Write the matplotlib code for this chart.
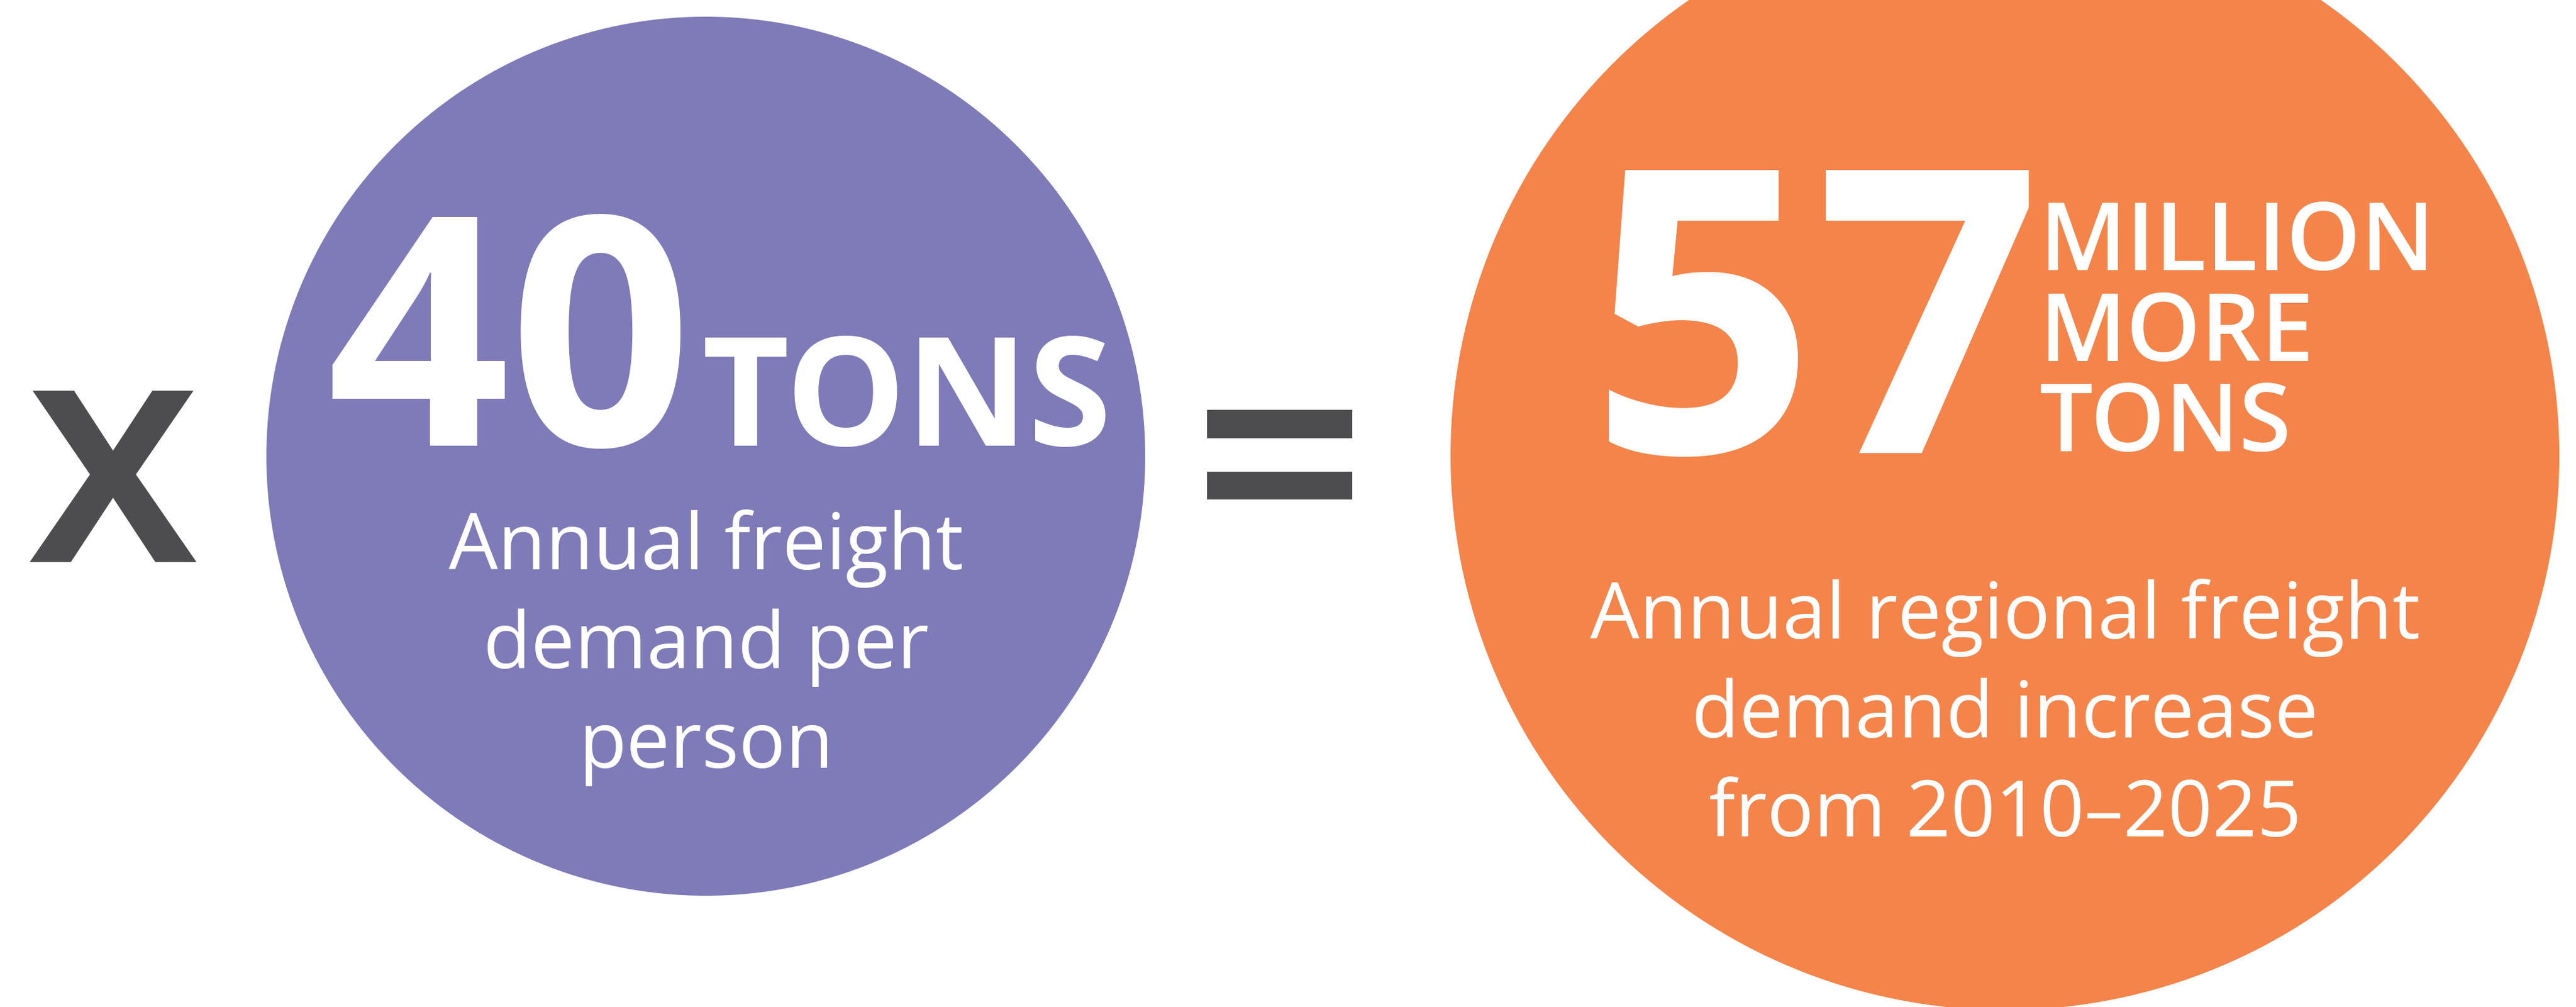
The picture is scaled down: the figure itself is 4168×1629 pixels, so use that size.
import matplotlib
matplotlib.use("Agg")
import matplotlib.pyplot as plt
from matplotlib.patches import Circle, Rectangle

# chart content
big_numbers = ["40", "57"]
unit_lines = [["TONS"], ["MILLION", "MORE", "TONS"]]
captions = [
    ["Annual freight", "demand per", "person"],
    ["Annual regional freight", "demand increase", "from 2010\u20132025"],
]
circle_colors = ["#7F7AB8", "#F4844A"]
sign_color = "#4D4D4F"

W, H = 4168, 1629
DPI = 100
PT = 72 / DPI  # points per pixel

plt.rcParams['font.family'] = ['Open Sans', 'DejaVu Sans']

fig = plt.figure(figsize=(W / DPI, H / DPI), dpi=DPI)
ax = fig.add_axes([0, 0, 1, 1])
ax.set_xlim(0, W)
ax.set_ylim(H, 0)
ax.axis('off')

# circles (centre x, centre y, radius) in pixels
circles = [(1142, 738, 711), (3244, 737, 897)]
for (cx, cy, r), col in zip(circles, circle_colors):
    ax.add_patch(Circle((cx, cy), r, color=col, lw=0))

# multiply sign
ax.text(183, 909, "x", color=sign_color, fontsize=369 * 1.389 * PT,
        fontweight='semibold', ha='center', va='baseline')

# equals sign
for y0, y1 in [(663, 709), (763, 808)]:
    ax.add_patch(Rectangle((1953, y0), 2188 - 1953, y1 - y0, color=sign_color, lw=0))

# left circle: 40 TONS
ax.text(528, 721, big_numbers[0], color='white', fontsize=518 * PT,
        fontweight='bold', ha='left', va='baseline')
ax.text(1135, 721, unit_lines[0][0], color='white', fontsize=244 * PT,
        fontweight='bold', ha='left', va='baseline')

# right circle: 57 MILLION MORE TONS
ax.text(2572, 733, big_numbers[1], color='white', fontsize=641 * PT,
        fontweight='bold', ha='left', va='baseline')
for line, base in zip(unit_lines[1], [437, 584, 730]):
    ax.text(3300, base, line, color='white', fontsize=153 * PT,
            fontweight='semibold', ha='left', va='baseline')

# captions
for (cx, cy, r), lines, bases in zip(circles, captions,
                                     [[921, 1081, 1242], [1033, 1193, 1353]]):
    for line, base in zip(lines, bases):
        ax.text(cx, base, line, color='white', fontsize=126 * PT,
                ha='center', va='baseline')

fig.savefig("out.png", dpi=DPI, facecolor='white')
